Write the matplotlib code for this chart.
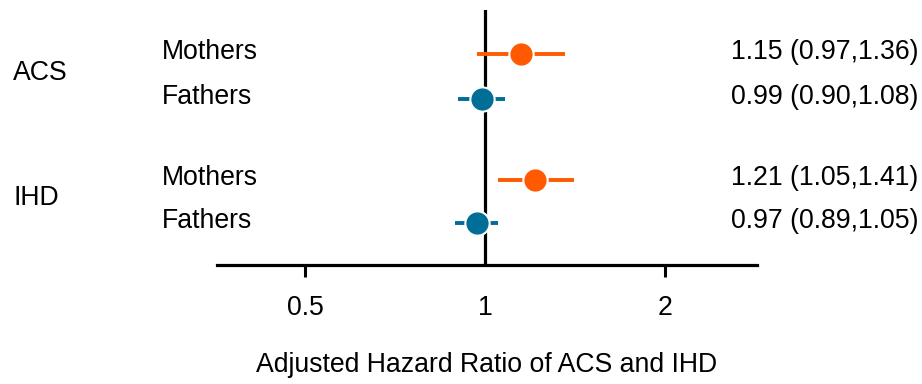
import matplotlib
matplotlib.use("Agg")
import matplotlib.pyplot as plt
import matplotlib.transforms as mtransforms

plt.rcParams['font.family'] = ['Liberation Sans', 'DejaVu Sans']

# data
groups = ['ACS', 'IHD']
parents = ['Mothers', 'Fathers', 'Mothers', 'Fathers']
hr = [1.15, 0.99, 1.21, 0.97]
lower = [0.97, 0.90, 1.05, 0.89]
upper = [1.36, 1.08, 1.41, 1.05]
ci_text = ['1.15 (0.97,1.36)', '0.99 (0.90,1.08)', '1.21 (1.05,1.41)', '0.97 (0.89,1.05)']
row_pos = [0, 1, 2.8, 3.75]
group_rows = [(0, 1), (2, 3)]
colors = ['#FF5A00', '#006E96', '#FF5A00', '#006E96']
xticks = [0.5, 1, 2]
xticklabels = ['0.5', '1', '2']

fs = 19.2

fig = plt.figure(figsize=(9.22, 3.84), dpi=100)
ax = fig.add_axes([0.2354, 0.3099, 0.5857, 0.664])

ax.axvline(1, color='black', lw=2.3, zorder=1)

for i in range(len(hr)):
    ax.errorbar(hr[i], row_pos[i],
                xerr=[[hr[i] - lower[i]], [upper[i] - hr[i]]],
                fmt='o', color=colors[i], ecolor=colors[i],
                markersize=17.5, markeredgecolor='white', markeredgewidth=1.5,
                elinewidth=2.8, capsize=0, zorder=3)

ax.set_xscale('log')
ax.set_xlim(0.3563, 2.851)
ax.set_ylim(4.69, -0.98)
ax.set_xticks(xticks)
ax.set_xticklabels(xticklabels, fontsize=fs)
ax.xaxis.set_minor_locator(matplotlib.ticker.NullLocator())
ax.tick_params(axis='x', length=8.6, width=2.2, pad=13)
ax.xaxis.get_major_ticks()[1].tick1line.set_visible(False)
ax.set_yticks([])
for s in ['top', 'right', 'left']:
    ax.spines[s].set_visible(False)
ax.spines['bottom'].set_linewidth(2.3)

ax.set_xlabel('Adjusted Hazard Ratio of ACS and IHD', fontsize=fs, labelpad=22)

trans = mtransforms.blended_transform_factory(fig.transFigure, ax.transData)
off = 0.12
for i in range(len(hr)):
    ax.text(162 / 922, row_pos[i] + off, parents[i], transform=trans,
            fontsize=fs, ha='left', va='baseline')
    ax.text(918 / 922, row_pos[i] + off, ci_text[i], transform=trans,
            fontsize=fs, ha='right', va='baseline')
for g, (a, b) in zip(groups, group_rows):
    mid = (row_pos[a] + row_pos[b]) / 2
    ax.text(13 / 922, mid + 0.07, g, transform=trans,
            fontsize=fs, ha='left', va='baseline')

fig.savefig('out.png', dpi=100)
